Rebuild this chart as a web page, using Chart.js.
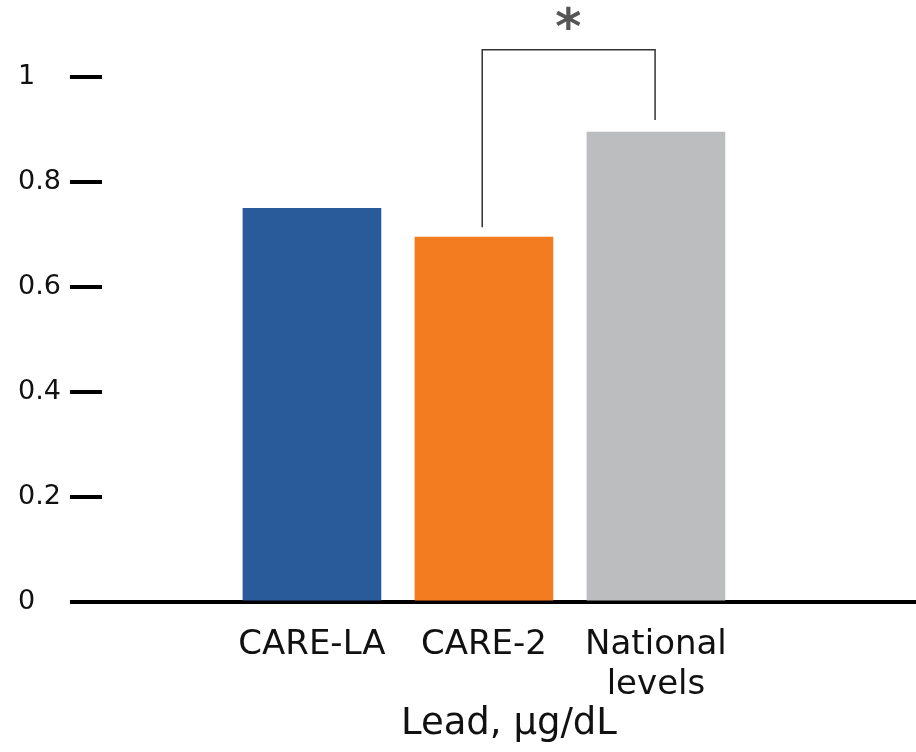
<!DOCTYPE html>
<html>
<head>
<meta charset="utf-8">
<script src="https://cdn.jsdelivr.net/npm/chart.js@4/dist/chart.umd.min.js"></script>
<style>
  html, body { margin: 0; padding: 0; background: #fff; }
  #wrap { width: 916px; height: 752px; }
</style>
</head>
<body>
<div id="wrap"><canvas id="leadChart"></canvas></div>
<script>
// data
const categories = ['CARE-LA', 'CARE-2', ['National', 'levels']];
const positions = [1, 2, 3];
const leadValues = [0.75, 0.695, 0.895];
const barColors = ['#295a99', '#f37c21', '#bcbdbf'];
const yTicks = [0, 0.2, 0.4, 0.6, 0.8, 1];

// significance bracket between CARE-2 and National levels
const bracketX = [1.99, 2.995];
const bracketTop = 1.052;
const bracketBottoms = [0.714, 0.918];
const starPos = [2.49, 1.11];

const fontFamily = '"DejaVu Sans", sans-serif';

// draws the bracket and asterisk over the bars
const bracketPlugin = {
    id: 'bracket',
    afterDatasetsDraw(chart) {
        const ctx = chart.ctx;
        const xs = chart.scales.x;
        const ys = chart.scales.y;
        const x1 = xs.getPixelForValue(bracketX[0]);
        const x2 = xs.getPixelForValue(bracketX[1]);
        const top = ys.getPixelForValue(bracketTop);
        ctx.save();
        ctx.strokeStyle = '#333';
        ctx.lineWidth = 1.5;
        ctx.beginPath();
        ctx.moveTo(x1, ys.getPixelForValue(bracketBottoms[0]));
        ctx.lineTo(x1, top);
        ctx.lineTo(x2, top);
        ctx.lineTo(x2, ys.getPixelForValue(bracketBottoms[1]));
        ctx.stroke();
        ctx.fillStyle = '#555';
        ctx.font = 'bold 50px ' + fontFamily;
        ctx.textAlign = 'center';
        ctx.textBaseline = 'middle';
        ctx.fillText('*', xs.getPixelForValue(starPos[0]), ys.getPixelForValue(starPos[1]) + 12);
        ctx.restore();
    }
};

new Chart(document.getElementById('leadChart'), {
    type: 'bar',
    data: {
        datasets: [{
            data: positions.map((p, i) => ({ x: p, y: leadValues[i] })),
            backgroundColor: barColors,
            borderWidth: 0,
            barThickness: 138
        }]
    },
    options: {
        responsive: true,
        maintainAspectRatio: false,
        animation: false,
        layout: { padding: { top: 77, left: 18, right: 0, bottom: 7 } },
        plugins: {
            legend: { display: false },
            tooltip: { enabled: false }
        },
        scales: {
            x: {
                type: 'linear',
                offset: false,
                min: -0.221,
                max: 4.512,
                afterBuildTicks: (scale) => { scale.ticks = positions.map(v => ({ value: v })); },
                grid: { display: false, drawTicks: false },
                border: { display: false },
                ticks: {
                    color: '#111',
                    padding: 23,
                    maxRotation: 0,
                    autoSkip: false,
                    font: { family: fontFamily, size: 34, lineHeight: 1.18 },
                    callback: (v) => categories[positions.indexOf(v)]
                },
                title: {
                    display: true,
                    text: 'Lead, µg/dL',
                    color: '#111',
                    padding: { top: -24, bottom: 0 },
                    font: { family: fontFamily, size: 37, lineHeight: 1.1 }
                }
            },
            y: {
                min: 0,
                max: 1,
                afterBuildTicks: (scale) => { scale.ticks = yTicks.map(v => ({ value: v })); },
                border: { display: false },
                grid: {
                    color: (c) => c.tick && c.tick.value === 0 ? '#000' : 'rgba(0,0,0,0)',
                    tickColor: '#000',
                    tickLength: 32,
                    lineWidth: 4
                },
                ticks: {
                    color: '#111',
                    padding: 4.5,
                    crossAlign: 'far',
                    font: { family: fontFamily, size: 27 },
                    callback: (v) => String(v)
                }
            }
        }
    },
    plugins: [bracketPlugin]
});
</script>
</body>
</html>
